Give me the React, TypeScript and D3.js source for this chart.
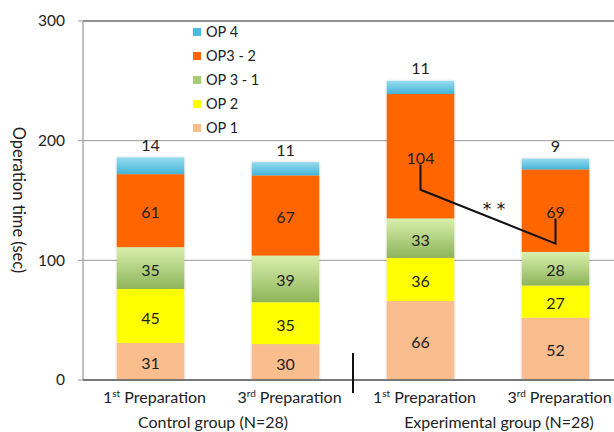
import React from 'react';
import * as d3 from 'd3';

// bars, left to right
const barKeys = ['c1', 'c3', 'e1', 'e3'];
const barNums = ['1', '3', '1', '3'];
const barSups = ['st', 'rd', 'st', 'rd'];
const groupNames = ['Control group (N=28)', 'Experimental group (N=28)'];

// stacked series, bottom to top
const seriesNames = ['OP 1', 'OP 2', 'OP 3 - 1', 'OP3 - 2', 'OP 4'];
const op1 = [31, 30, 66, 52];
const op2 = [45, 35, 36, 27];
const op31 = [35, 39, 33, 28];
const op32 = [61, 67, 104, 69];
const op4 = [14, 11, 11, 9];

const yTicks = [0, 100, 200, 300];

// significance bracket (value space) between exp. 1st and 3rd
const sigLine = [
  { bar: 'e1', v: 180 },
  { bar: 'e1', v: 159 },
  { bar: 'e3', v: 114 },
  { bar: 'e3', v: 135 },
];

const FONT = 'Lato, "Open Sans", sans-serif';

const W = 614;
const H = 432;
const margin = { top: 21, right: -9, bottom: 52, left: 83 };

const App = () => {
  const seriesVals = [op1, op2, op31, op32, op4];
  const table = barKeys.map((k, i) => {
    const row: any = { key: k };
    seriesNames.forEach((s, j) => (row[s] = seriesVals[j][i]));
    return row;
  });
  const stacked = d3.stack().keys(seriesNames)(table);

  const x = d3.scaleBand().domain(barKeys).range([margin.left, W - margin.right]).paddingInner(0.5).paddingOuter(0.25);
  const y = d3.scaleLinear().domain([0, 300]).range([H - margin.bottom, margin.top]);
  const bw = x.bandwidth();
  const cx = (k: string) => (x(k) as number) + bw / 2;

  const fills = ['#f9bd8e', '#ffff00', 'url(#gGreen)', '#ff6600', 'url(#gCyan)'];
  const legendColors = ['#f9bd8e', '#ffff00', '#a5cc72', '#ff6600', '#4cb9da'];

  const line = d3.line<any>().x(d => cx(d.bar)).y(d => y(d.v));

  const x0 = y(0);
  const sepX = ((x('c3') as number) + bw + (x('e1') as number)) / 2;

  return (
    <svg width={W} height={H} style={{ position: 'absolute', left: 0, top: 0, background: '#fff' }} fontFamily={FONT}>
      <defs>
        <linearGradient id="gGreen" x1="0" y1="0" x2="0" y2="1">
          <stop offset="0" stopColor="#d8f0ac" />
          <stop offset="1" stopColor="#8db45a" />
        </linearGradient>
        <linearGradient id="gCyan" x1="0" y1="0" x2="0" y2="1">
          <stop offset="0" stopColor="#96dcef" />
          <stop offset="1" stopColor="#45b4d6" />
        </linearGradient>
        <filter id="sh" x="-10%" y="-10%" width="120%" height="120%">
          <feGaussianBlur in="SourceAlpha" stdDeviation="1.2" />
          <feOffset dx="0" dy="0" result="b" />
          <feComponentTransfer><feFuncA type="linear" slope="0.25" /></feComponentTransfer>
          <feMerge><feMergeNode /><feMergeNode in="SourceGraphic" /></feMerge>
        </filter>
      </defs>

      {/* gridlines */}
      {yTicks.filter(t => t > 0).map(t => (
        <line key={t} x1={margin.left} x2={W} y1={y(t)} y2={y(t)}
          stroke={t === 300 ? '#222' : '#999'} strokeWidth={t === 300 ? 1.2 : 1} />
      ))}

      {/* y axis */}
      <line x1={margin.left} x2={margin.left} y1={y(300)} y2={x0} stroke="#999" strokeWidth={1.2} />
      {yTicks.map(t => (
        <g key={t}>
          <line x1={margin.left - 5} x2={margin.left} y1={y(t)} y2={y(t)} stroke="#999" />
          <text x={65} y={y(t)} dy="0.35em" textAnchor="end" fontSize={15.5} fill="#222">{t}</text>
        </g>
      ))}
      <text transform={`translate(13,200) rotate(90)`} textAnchor="middle" fontSize={16.5} fill="#222">
        Operation time (sec)
      </text>

      {/* bars */}
      <g filter="url(#sh)">
        {stacked.map((s, j) => s.map((d, i) => (
          <rect key={`${j}-${i}`} x={x(barKeys[i])} width={bw} y={y(d[1])} height={y(d[0]) - y(d[1])} fill={fills[j]} />
        )))}
      </g>

      {/* value labels */}
      {stacked.map((s, j) => s.map((d, i) => {
        const top = j === seriesNames.length - 1;
        const yy = top ? y(d[1]) - 12 : (y(d[0]) + y(d[1])) / 2 + 2;
        return (
          <text key={`t${j}-${i}`} x={cx(barKeys[i])} y={yy} dy="0.35em" textAnchor="middle" fontSize={16} fill="#222">
            {d[1] - d[0]}
          </text>
        );
      }))}

      {/* significance annotation */}
      <path d={line(sigLine) || ''} fill="none" stroke="#111" strokeWidth={2} />
      <text x={(cx('e1') + cx('e3')) / 2 + 6} y={y(146)} dy="0.6em" textAnchor="middle" fontSize={17}
        fontFamily='"DejaVu Sans", sans-serif' fill="#111">* *</text>

      {/* x axis */}
      <line x1={margin.left} x2={W} y1={x0} y2={x0} stroke="#777" strokeWidth={2} />
      <line x1={sepX} x2={sepX} y1={x0 - 27} y2={x0 + 13} stroke="#111" strokeWidth={2} />
      {barKeys.map((k, i) => (
        <text key={k} x={cx(k) + 4} y={x0 + 23} textAnchor="middle" fontSize={16} fill="#222">
          {barNums[i]}
          <tspan fontSize={10} dy={-6}>{barSups[i]}</tspan>
          <tspan dy={6}> Preparation</tspan>
        </text>
      ))}
      {groupNames.map((g, gi) => {
        const c = (cx(barKeys[gi * 2]) + cx(barKeys[gi * 2 + 1])) / 2;
        return (
          <text key={g} x={c + (gi === 0 ? -5 : 11)} y={x0 + 48} textAnchor="middle" fontSize={16} fill="#222">{g}</text>
        );
      })}

      {/* legend */}
      <rect x={186} y={22} width={120} height={116} fill="#fff" />
      {seriesNames.slice().reverse().map((s, i) => {
        const ly = 32 + i * 24;
        return (
          <g key={s}>
            <rect x={193} y={ly - 4} width={8} height={8} fill={legendColors[seriesNames.length - 1 - i]} />
            <text x={206} y={ly} dy="0.35em" fontSize={14.5} fill="#222">{s}</text>
          </g>
        );
      })}
    </svg>
  );
};

export default App;
